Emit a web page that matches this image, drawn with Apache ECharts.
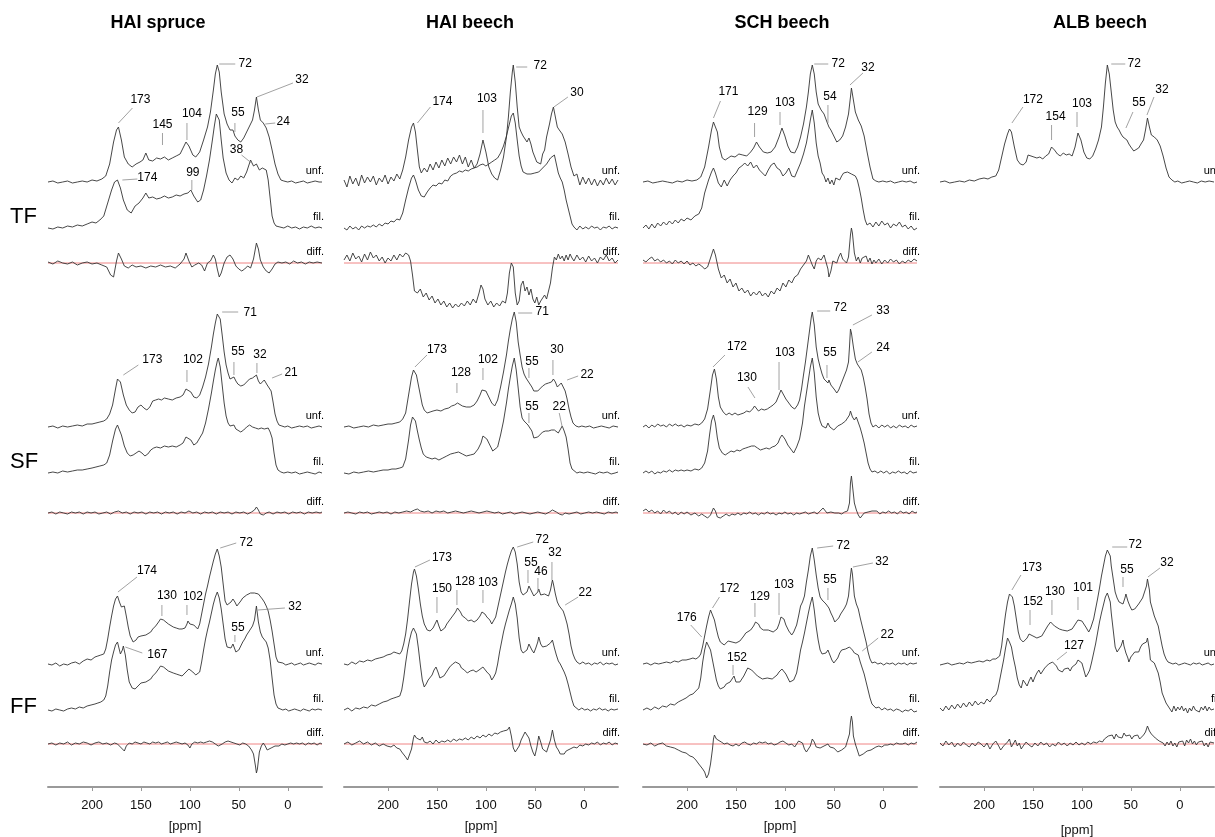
<!DOCTYPE html>
<html><head><meta charset="utf-8">
<script src="https://cdn.jsdelivr.net/npm/echarts@6/dist/echarts.min.js"></script>
<style>html,body{margin:0;padding:0;background:#fff}#c{width:1215px;height:837px}</style>
</head><body><div id="c"></div>
<script>
// ---------------- DATA (ppm, intensity above trace baseline) ----------------
const COLUMNS = ['HAI spruce', 'HAI beech', 'SCH beech', 'ALB beech'];
const ROWS = ['TF', 'SF', 'FF'];
const TRACE_NAMES = {unf: 'unf.', fil: 'fil.', diff: 'diff.'};
const TICKS = [0, 50, 100, 150, 200];
const PPM_MIN = -35, PPM_MAX = 245;

// ---- TF ----
const tfSpruceUnf = [[245,0],[240,1],[235,-1],[230,0],[225,1],[220,-1],[215,0],[210,1],[205,0],[200,2],[195,1],[190,3],[186,6],[182,18],[178,40],[175,52],[173,55],[170,42],[167,25],[163,18],[159,15],[155,18],[151,20],[148,22],[145,29],[142,22],[138,21],[134,24],[130,23],[126,25],[122,22],[118,24],[114,26],[110,28],[107,34],[104,40],[101,36],[97,27],[94,25],[90,30],[86,42],[82,55],[79,70],[76,92],[74,108],[72,117],[70,110],[68,90],[65,68],[62,58],[59,52],[56,52],[54,46],[51,42],[48,40],[45,44],[42,50],[39,56],[36,62],[34,72],[32,85],[30,72],[28,62],[25,59],[22,54],[19,45],[16,32],[13,18],[10,8],[7,2],[4,1],[0,0],[-4,1],[-8,-1],[-12,0],[-16,1],[-20,-1],[-24,0],[-28,1],[-32,0],[-35,0]];
const tfSpruceFil = [[245,0],[240,-1],[235,1],[230,0],[225,2],[220,1],[215,3],[210,2],[205,4],[200,6],[196,5],[192,8],[188,12],[184,25],[180,38],[177,46],[174,48],[171,40],[168,28],[164,18],[160,15],[156,22],[152,25],[148,30],[145,35],[142,30],[138,31],[134,29],[130,30],[126,32],[122,30],[118,31],[114,33],[110,32],[106,34],[102,35],[99,38],[96,32],[92,26],[89,28],[86,38],[83,52],[80,68],[77,88],[75,102],[73,114],[72,116],[70,108],[68,88],[66,70],[63,55],[60,48],[57,45],[54,50],[51,48],[48,52],[45,50],[42,56],[40,62],[38,68],[35,62],[32,64],[29,58],[26,60],[24,62],[22,58],[20,48],[18,30],[16,12],[14,5],[12,2],[8,1],[4,0],[0,2],[-4,0],[-8,1],[-12,-1],[-16,1],[-20,0],[-24,2],[-28,0],[-32,1],[-35,0]];
const tfSpruceDiff = [[245,1],[240,-1],[235,2],[230,0],[225,-1],[220,1],[215,-2],[210,0],[205,1],[200,-1],[195,0],[190,-2],[185,-4],[181,-12],[178,-14],[175,2],[173,10],[170,4],[167,-3],[163,-5],[159,-2],[155,-4],[150,-3],[145,-5],[140,-3],[135,-4],[130,-2],[125,-4],[120,-3],[115,-5],[110,-1],[106,4],[104,10],[101,2],[98,-4],[95,-2],[91,0],[88,-2],[85,-8],[82,0],[79,2],[76,8],[74,4],[72,-6],[70,-14],[68,-10],[65,0],[62,6],[59,8],[56,4],[53,-3],[50,-6],[47,-8],[44,-6],[41,-3],[38,-5],[35,4],[32,20],[30,14],[28,3],[25,-4],[22,-8],[19,-10],[16,-6],[13,-1],[10,1],[6,0],[2,1],[-2,-1],[-6,2],[-10,0],[-14,1],[-18,-1],[-22,1],[-26,0],[-30,1],[-35,0]];

const tfHaiBeechUnf = [[245,2],[242,-5],[239,6],[236,-2],[233,4],[230,-4],[227,7],[224,-1],[221,5],[218,0],[215,6],[212,-3],[209,4],[206,0],[203,7],[200,-2],[197,5],[194,1],[191,8],[188,3],[185,12],[182,25],[179,42],[176,55],[174,59],[172,50],[170,32],[168,15],[166,9],[163,14],[160,10],[157,18],[154,12],[151,20],[148,14],[145,22],[142,16],[139,24],[136,18],[133,25],[130,20],[127,27],[124,18],[121,25],[118,15],[115,22],[112,14],[109,18],[106,28],[103,42],[100,30],[97,15],[94,8],[91,4],[88,2],[85,12],[82,25],[79,45],[77,65],[75,90],[73,110],[72,117],[70,100],[68,75],[66,55],[64,50],[62,46],[60,48],[58,40],[56,44],[54,38],[52,30],[50,25],[48,20],[46,22],[44,18],[42,28],[40,32],[38,45],[35,58],[33,68],[31,75],[29,65],[27,55],[25,52],[22,48],[19,40],[16,28],[13,15],[10,6],[7,8],[4,-3],[1,5],[-2,-2],[-5,4],[-8,-3],[-11,3],[-14,-4],[-17,2],[-20,-3],[-23,4],[-26,-2],[-29,3],[-32,-3],[-35,2]];
const tfHaiBeechFil = [[245,0],[242,-2],[239,2],[236,-1],[233,1],[230,-2],[227,2],[224,0],[221,2],[218,1],[215,3],[212,1],[209,4],[206,2],[203,5],[200,4],[197,7],[194,6],[191,9],[188,8],[185,15],[182,28],[179,40],[176,50],[174,53],[172,48],[169,38],[166,32],[163,31],[160,36],[157,40],[154,43],[151,42],[148,45],[145,44],[142,48],[139,47],[136,52],[133,54],[130,55],[127,57],[124,56],[121,58],[118,57],[115,59],[112,60],[109,61],[106,63],[103,64],[100,62],[97,64],[94,66],[91,68],[88,70],[85,75],[82,82],[79,92],[76,104],[74,112],[72,115],[70,105],[68,88],[66,72],[64,62],[62,56],[60,55],[58,54],[56,52],[54,54],[52,53],[50,55],[48,54],[46,56],[44,58],[42,60],[40,62],[38,64],[36,66],[34,70],[32,72],[30,73],[28,64],[26,55],[24,50],[22,46],[20,38],[18,28],[16,20],[14,12],[12,4],[10,1],[7,-2],[4,2],[1,-1],[-2,1],[-5,-1],[-8,2],[-11,0],[-14,1],[-17,-2],[-20,1],[-23,0],[-26,2],[-29,-1],[-32,1],[-35,0]];
const tfHaiBeechDiff = [[245,3],[242,8],[239,2],[236,10],[233,4],[230,7],[227,1],[224,9],[221,3],[218,11],[215,5],[212,8],[209,2],[206,6],[203,0],[200,5],[197,2],[194,8],[191,3],[188,9],[185,6],[182,10],[179,8],[177,2],[175,-12],[173,-28],[170,-30],[167,-26],[164,-34],[161,-30],[158,-37],[155,-33],[152,-40],[149,-36],[146,-42],[143,-38],[140,-44],[137,-40],[134,-45],[131,-41],[128,-44],[125,-40],[122,-43],[119,-38],[116,-42],[113,-36],[110,-40],[107,-30],[105,-22],[103,-26],[101,-36],[98,-42],[95,-38],[92,-44],[89,-40],[86,-43],[83,-38],[80,-40],[78,-30],[76,-10],[74,0],[72,-4],[70,-30],[68,-42],[66,-38],[64,-22],[62,-18],[60,-28],[58,-24],[56,-32],[54,-26],[52,-36],[50,-40],[48,-34],[46,-42],[44,-38],[42,-40],[40,-32],[38,-36],[36,-28],[34,-20],[32,-5],[30,6],[28,3],[26,9],[24,4],[22,7],[20,2],[18,8],[16,3],[14,9],[12,5],[10,2],[7,8],[4,3],[1,6],[-2,1],[-5,7],[-8,2],[-11,5],[-14,0],[-17,6],[-20,3],[-23,8],[-26,2],[-29,5],[-32,0],[-35,3]];

const tfSchUnf = [[245,0],[240,1],[235,-1],[230,0],[225,1],[220,0],[215,-1],[210,1],[205,0],[200,2],[195,1],[190,2],[186,5],[182,15],[178,35],[175,52],[173,60],[171,62],[169,50],[167,35],[164,24],[161,22],[158,24],[155,26],[151,25],[147,28],[143,27],[139,26],[135,30],[132,34],[129,40],[126,35],[122,30],[118,29],[114,30],[110,35],[106,45],[103,54],[100,46],[97,36],[94,30],[90,29],[87,35],[84,45],[81,58],[78,75],[76,90],[74,108],[72,117],[70,108],[68,90],[66,78],[63,72],[60,68],[57,60],[55,55],[53,52],[50,46],[47,40],[44,42],[41,46],[38,55],[35,68],[33,85],[32,94],[30,82],[28,70],[25,62],[22,56],[19,46],[16,30],[13,15],[10,3],[7,1],[4,0],[0,1],[-4,0],[-8,1],[-12,-1],[-16,0],[-20,1],[-24,0],[-28,1],[-32,-1],[-35,0]];
const tfSchFil = [[245,0],[242,3],[239,-1],[236,4],[233,0],[230,5],[227,2],[224,6],[221,3],[218,7],[215,4],[212,8],[209,5],[206,9],[203,7],[200,10],[196,8],[192,12],[188,14],[185,20],[182,35],[178,48],[175,56],[173,60],[171,55],[168,45],[165,41],[162,48],[159,42],[156,48],[153,52],[150,55],[147,60],[144,62],[141,65],[138,62],[135,66],[132,60],[129,63],[126,58],[123,55],[120,52],[117,58],[114,63],[111,65],[108,60],[105,58],[102,52],[99,55],[96,60],[93,52],[90,51],[87,58],[84,65],[81,74],[78,85],[76,96],[74,108],[72,118],[70,105],[68,85],[66,72],[64,65],[62,55],[60,52],[58,46],[56,50],[54,44],[52,48],[50,43],[48,50],[46,52],[44,48],[42,52],[40,55],[38,53],[36,56],[34,58],[32,54],[30,55],[28,52],[26,48],[24,40],[22,30],[20,18],[18,8],[16,3],[13,5],[10,1],[7,6],[4,2],[1,7],[-2,3],[-5,5],[-8,0],[-11,4],[-14,2],[-17,6],[-20,1],[-23,3],[-26,-1],[-29,2],[-32,-2],[-35,0]];
const tfSchDiff = [[245,3],[242,1],[239,4],[236,6],[233,2],[230,4],[227,1],[224,3],[221,0],[218,2],[215,-1],[212,3],[209,0],[206,2],[203,-1],[200,2],[197,-2],[194,0],[191,-3],[188,-1],[185,-3],[182,-6],[179,-4],[176,5],[173,14],[171,8],[168,-6],[165,-15],[162,-12],[159,-20],[156,-16],[153,-24],[150,-20],[147,-28],[144,-25],[141,-30],[138,-27],[135,-33],[132,-29],[129,-32],[126,-28],[123,-33],[120,-30],[117,-34],[114,-28],[111,-31],[108,-25],[105,-28],[102,-20],[99,-24],[96,-17],[93,-20],[90,-14],[87,-12],[84,-6],[81,-2],[78,2],[76,8],[74,3],[72,-2],[70,-6],[68,2],[66,5],[63,3],[60,8],[58,6],[56,-6],[55,-14],[53,-8],[51,2],[49,4],[47,0],[45,6],[43,10],[41,4],[39,2],[37,0],[35,6],[33,28],[32,35],[31,30],[29,10],[27,2],[25,6],[23,0],[21,5],[19,3],[17,7],[15,1],[13,5],[11,-1],[9,3],[7,0],[4,4],[1,-1],[-2,3],[-5,0],[-8,4],[-11,1],[-14,3],[-17,-1],[-20,2],[-23,0],[-26,3],[-29,1],[-32,4],[-35,2]];

const tfAlbUnf = [[245,0],[240,1],[235,-1],[230,0],[225,1],[220,0],[215,2],[210,1],[205,3],[200,4],[196,3],[192,5],[188,6],[185,12],[182,25],[179,38],[176,48],[174,53],[172,50],[169,35],[166,22],[163,18],[160,17],[157,20],[155,27],[152,26],[149,25],[146,24],[143,25],[140,23],[137,26],[134,28],[131,35],[128,32],[125,28],[122,26],[119,29],[116,27],[113,28],[110,26],[107,35],[104,49],[101,42],[98,30],[95,24],[92,23],[89,26],[86,33],[83,42],[80,55],[78,75],[76,99],[74,117],[72,108],[70,90],[68,72],[66,60],[64,55],[62,52],[60,48],[58,45],[56,47],[54,42],[52,38],[50,35],[47,31],[45,29],[42,34],[39,39],[37,42],[35,52],[33,64],[31,55],[29,47],[26,45],[23,42],[20,36],[17,26],[14,14],[11,5],[8,2],[5,0],[2,1],[-2,-1],[-6,0],[-10,1],[-14,0],[-18,-1],[-22,1],[-26,0],[-30,1],[-35,0]];

// ---- SF ----
const sfSpruceUnf = [[245,0],[240,1],[235,-1],[230,1],[225,0],[220,1],[215,2],[210,1],[205,3],[200,3],[196,4],[192,5],[188,6],[185,8],[182,13],[179,22],[176,38],[174,48],[173,50],[171,45],[168,32],[165,22],[162,17],[159,14],[156,15],[153,20],[150,22],[147,19],[144,17],[141,20],[138,26],[135,27],[132,28],[129,27],[126,29],[122,28],[118,27],[114,29],[110,30],[107,32],[104,38],[102,40],[99,35],[96,30],[93,29],[90,32],[87,40],[84,50],[81,63],[78,80],[76,93],[74,104],[72,113],[71,115],[69,108],[67,92],[65,75],[63,62],[61,54],[59,48],[57,46],[55,50],[53,46],[51,43],[48,41],[45,42],[42,45],[39,48],[36,49],[34,48],[32,52],[30,46],[28,43],[26,44],[24,47],[22,45],[21,42],[19,40],[17,36],[15,25],[13,13],[11,6],[9,2],[6,1],[3,0],[0,1],[-4,-1],[-8,0],[-12,1],[-16,0],[-20,1],[-24,-1],[-28,0],[-32,1],[-35,0]];
const sfSpruceFil = [[245,0],[240,1],[235,0],[230,2],[225,1],[220,2],[215,3],[210,3],[205,4],[200,5],[196,6],[192,7],[188,8],[185,10],[182,18],[179,32],[176,44],[174,48],[172,46],[170,38],[167,27],[164,20],[161,17],[158,18],[155,20],[152,22],[149,20],[146,17],[143,19],[140,23],[137,25],[134,26],[130,25],[126,27],[122,26],[118,27],[114,26],[110,28],[107,30],[104,36],[102,38],[99,33],[96,28],[93,30],[90,35],[87,40],[84,50],[81,64],[78,80],[76,92],[74,103],[72,112],[71,115],[69,106],[67,88],[65,70],[63,57],[61,50],[59,47],[57,45],[55,48],[53,44],[51,42],[48,41],[45,43],[42,46],[39,48],[36,46],[33,45],[30,44],[27,45],[24,44],[22,43],[20,45],[18,41],[16,35],[14,20],[12,8],[10,3],[7,1],[4,0],[0,1],[-4,0],[-8,1],[-12,-1],[-16,0],[-20,1],[-24,0],[-28,-1],[-32,1],[-35,0]];
const sfSpruceDiff = [[245,0],[241,1],[237,-1],[233,1],[229,0],[225,-1],[221,1],[217,0],[213,1],[209,-1],[205,1],[201,0],[197,1],[193,-1],[189,0],[185,1],[181,-1],[177,1],[173,2],[169,0],[165,1],[161,-1],[157,1],[153,0],[149,1],[145,-1],[141,1],[137,0],[133,1],[129,-1],[125,1],[121,0],[117,1],[113,-1],[109,1],[105,0],[101,2],[97,0],[93,1],[89,-1],[85,1],[81,0],[77,1],[73,-1],[69,1],[65,0],[61,1],[57,-1],[53,1],[49,0],[45,1],[41,-1],[37,1],[34,3],[32,6],[30,3],[28,-1],[25,-2],[22,0],[19,1],[15,-1],[11,1],[7,0],[3,1],[-1,-1],[-5,1],[-9,0],[-13,1],[-17,-1],[-21,1],[-25,0],[-29,1],[-33,0],[-35,1]];

const sfHaiBeechUnf = [[245,0],[240,1],[235,-1],[230,0],[225,1],[220,0],[215,2],[210,1],[205,2],[200,3],[196,3],[192,4],[188,5],[185,8],[182,14],[179,32],[176,50],[174,57],[173,58],[171,52],[169,42],[167,32],[165,22],[163,17],[160,14],[157,15],[154,16],[150,17],[146,16],[142,18],[138,19],[135,21],[132,22],[129,24],[127,23],[124,21],[120,20],[116,20],[112,22],[109,26],[106,32],[104,37],[102,39],[100,36],[97,30],[94,24],[91,21],[88,27],[85,40],[82,55],[79,72],[77,86],[75,98],[73,108],[71,115],[69,105],[67,85],[65,72],[63,60],[61,53],[59,49],[57,47],[55,43],[53,40],[51,36],[49,34],[47,36],[45,38],[42,41],[39,43],[36,44],[33,45],[31,48],[29,45],[27,40],[25,42],[23,44],[21,42],[19,36],[17,28],[15,18],[13,10],[11,4],[8,1],[5,0],[2,1],[-2,0],[-6,1],[-10,-1],[-14,0],[-18,1],[-22,0],[-26,-1],[-30,1],[-35,0]];
const sfHaiBeechFil = [[245,0],[240,-1],[235,1],[230,0],[225,1],[220,2],[215,1],[210,2],[205,3],[200,3],[196,4],[192,4],[188,5],[185,6],[182,14],[179,33],[177,48],[175,56],[174,57],[172,52],[170,42],[168,33],[166,25],[164,19],[161,16],[158,15],[155,14],[152,15],[148,13],[144,15],[140,17],[136,19],[132,20],[128,21],[124,19],[120,17],[116,18],[112,19],[108,24],[105,30],[103,37],[101,38],[99,34],[96,28],[93,22],[91,20],[88,26],[85,38],[82,52],[79,70],[77,84],[75,96],[73,107],[71,115],[69,103],[67,85],[65,66],[63,55],[61,52],[59,50],[57,48],[55,49],[53,42],[51,35],[49,33],[47,36],[45,38],[42,41],[39,42],[36,42],[33,43],[30,43],[28,42],[26,40],[24,42],[22,47],[20,42],[18,36],[16,24],[14,10],[12,4],[10,2],[7,0],[4,1],[0,0],[-4,1],[-8,0],[-12,-1],[-16,1],[-20,0],[-24,1],[-28,-1],[-32,0],[-35,1]];
const sfHaiBeechDiff = [[245,0],[241,1],[237,0],[233,-1],[229,1],[225,0],[221,1],[217,-1],[213,0],[209,1],[205,0],[201,1],[197,-1],[193,1],[189,0],[185,1],[181,2],[177,1],[173,3],[170,4],[167,2],[163,1],[159,2],[155,0],[151,2],[147,1],[143,2],[139,0],[135,1],[131,2],[127,1],[123,0],[119,1],[115,2],[111,1],[107,0],[103,1],[99,2],[95,1],[91,0],[87,1],[83,-1],[79,0],[75,1],[71,-1],[67,0],[63,1],[59,0],[55,-1],[51,0],[47,1],[43,0],[39,-1],[35,1],[32,3],[30,4],[28,1],[25,-1],[22,-2],[19,0],[15,-1],[11,0],[7,1],[3,-1],[-1,0],[-5,1],[-9,0],[-13,1],[-17,0],[-21,-1],[-25,1],[-29,0],[-33,1],[-35,0]];

const sfSchUnf = [[245,0],[242,2],[239,-1],[236,2],[233,0],[230,3],[227,1],[224,2],[221,0],[218,3],[215,1],[212,3],[209,1],[206,2],[203,0],[200,2],[196,1],[192,3],[188,2],[185,4],[182,8],[179,18],[176,38],[174,52],[172,58],[170,48],[168,30],[166,20],[163,15],[160,12],[157,14],[154,12],[151,14],[148,12],[145,13],[142,14],[139,16],[136,15],[133,18],[131,21],[129,20],[127,16],[124,18],[121,17],[118,18],[115,20],[112,22],[109,25],[106,32],[104,37],[102,35],[99,28],[96,24],[93,20],[90,18],[87,22],[85,27],[83,38],[81,52],[79,65],[77,80],[75,95],[73,110],[72,115],[70,102],[68,80],[66,68],[64,60],[62,53],[60,48],[58,46],[56,44],[55,47],[53,42],[51,40],[49,37],[47,34],[45,37],[43,42],[41,47],[39,52],[37,57],[35,65],[34,80],[33,98],[32,94],[30,80],[28,68],[26,63],[24,62],[22,57],[20,50],[18,40],[16,28],[14,13],[12,4],[10,0],[7,2],[4,-1],[1,2],[-2,0],[-5,2],[-8,-1],[-11,1],[-14,-1],[-17,2],[-20,0],[-23,1],[-26,-1],[-29,2],[-32,0],[-35,1]];
const sfSchFil = [[245,0],[242,2],[239,0],[236,2],[233,-1],[230,1],[227,0],[224,2],[221,1],[218,3],[215,1],[212,3],[209,2],[206,3],[203,2],[200,3],[196,2],[192,4],[188,3],[185,5],[182,10],[179,22],[177,38],[175,52],[173,58],[171,50],[169,35],[167,25],[164,20],[161,18],[158,20],[155,22],[152,21],[149,23],[146,22],[143,24],[140,25],[137,26],[134,27],[131,27],[128,25],[125,23],[122,24],[119,25],[116,24],[113,26],[110,27],[107,30],[105,35],[103,38],[100,34],[97,28],[94,24],[91,20],[88,26],[85,34],[82,50],[80,67],[78,80],[76,93],[74,106],[72,115],[70,100],[68,76],[66,60],[64,52],[62,47],[60,46],[58,45],[56,50],[54,46],[52,44],[50,43],[48,45],[46,47],[44,49],[42,49],[40,50],[38,52],[36,54],[34,58],[33,62],[31,56],[29,53],[27,56],[25,54],[23,45],[21,38],[19,30],[17,20],[15,10],[13,4],[11,1],[8,2],[5,0],[2,2],[-1,0],[-4,2],[-7,-1],[-10,1],[-13,0],[-16,2],[-19,0],[-22,1],[-25,-1],[-28,2],[-31,0],[-35,1]];
const sfSchDiff = [[245,2],[242,4],[239,1],[236,3],[233,0],[230,2],[227,-1],[224,3],[221,0],[218,2],[215,-1],[212,1],[209,-2],[206,1],[203,-1],[200,1],[196,-2],[192,0],[188,-3],[185,-1],[182,-3],[179,-5],[176,-2],[173,5],[171,2],[169,-4],[166,-5],[163,-3],[160,-1],[157,-3],[154,-1],[151,-2],[148,0],[145,-2],[142,0],[139,-1],[136,1],[133,-1],[130,0],[127,-2],[124,0],[121,-1],[118,1],[115,-1],[112,0],[109,-2],[106,0],[103,-1],[100,1],[97,-1],[94,0],[91,-2],[88,0],[85,-1],[82,0],[79,1],[76,-1],[73,0],[70,1],[67,-1],[64,2],[61,5],[59,3],[57,0],[55,-2],[53,1],[51,-1],[49,0],[47,-2],[45,0],[42,-1],[39,1],[36,2],[34,10],[33,30],[32,37],[31,28],[29,10],[27,3],[25,-2],[23,-5],[21,-3],[19,0],[17,-2],[15,1],[13,-1],[11,2],[9,0],[6,2],[3,-1],[0,1],[-3,0],[-6,2],[-9,0],[-12,1],[-15,-1],[-18,2],[-21,0],[-24,1],[-27,-1],[-30,2],[-33,0],[-35,1]];

// ---- FF ----
const ffSpruceUnf = [[245,0],[241,-1],[237,1],[233,-2],[229,0],[225,-1],[221,1],[217,2],[213,0],[209,3],[205,5],[201,4],[197,7],[194,8],[191,9],[188,10],[186,15],[184,25],[182,37],[180,48],[178,58],[176,65],[174,68],[172,62],[170,57],[168,58],[167,58],[165,48],[163,37],[161,28],[158,22],[155,24],[153,27],[150,28],[148,30],[145,29],[143,28],[140,32],[138,35],[135,38],[132,42],[130,45],[127,44],[125,42],[122,40],[120,38],[117,37],[114,36],[111,35],[108,35],[105,36],[103,40],[102,43],[100,40],[98,38],[96,39],[94,37],[92,35],[90,40],[88,50],[86,60],[84,70],[82,78],[80,87],[78,95],[76,103],[74,110],[72,115],[70,108],[68,97],[66,80],[64,63],[62,59],[60,60],[58,62],[56,65],[54,62],[52,58],[50,60],[48,63],[46,66],[44,68],[42,69],[40,70],[38,71],[36,72],[34,71],[32,73],[30,70],[28,68],[26,65],[24,62],[22,58],[20,53],[18,44],[16,33],[14,20],[12,7],[10,2],[8,0],[5,1],[2,-1],[-1,0],[-4,1],[-7,-1],[-10,0],[-13,1],[-16,-1],[-19,0],[-22,1],[-25,0],[-28,-1],[-31,1],[-35,0]];
const ffSpruceFil = [[245,0],[241,-1],[237,1],[233,0],[229,-1],[225,1],[221,2],[217,1],[213,3],[209,2],[205,4],[201,5],[197,6],[194,7],[191,8],[188,10],[186,14],[184,24],[182,38],[180,50],[178,58],[176,65],[174,68],[172,60],[171,56],[169,60],[168,64],[166,55],[164,40],[162,28],[159,22],[156,21],[153,24],[150,27],[148,29],[145,28],[143,28],[140,31],[138,34],[135,37],[132,41],[130,44],[127,43],[125,41],[122,39],[120,38],[117,37],[114,36],[111,35],[108,34],[105,37],[103,39],[101,41],[99,40],[97,38],[94,35],[92,33],[90,38],[88,48],[86,60],[84,71],[82,80],[80,88],[78,97],[76,106],[74,113],[72,118],[70,112],[68,101],[66,86],[64,71],[62,63],[60,61],[58,62],[56,66],[55,67],[53,58],[52,56],[50,60],[48,64],[46,68],[44,71],[42,75],[40,78],[38,81],[36,84],[34,90],[32,104],[30,88],[28,78],[26,73],[24,71],[22,68],[20,62],[18,50],[16,32],[14,15],[12,6],[10,2],[8,1],[5,0],[2,1],[-1,-1],[-4,0],[-7,1],[-10,0],[-13,-1],[-16,1],[-19,0],[-22,-1],[-25,1],[-28,0],[-31,1],[-35,0]];
const ffSpruceDiff = [[245,0],[241,1],[237,-1],[233,1],[229,0],[225,2],[221,-1],[217,1],[213,0],[209,2],[205,1],[201,-1],[197,1],[193,2],[189,0],[185,1],[181,-1],[177,1],[174,0],[171,-3],[169,-1],[167,-7],[165,-2],[162,1],[159,0],[156,2],[153,1],[150,0],[147,2],[144,1],[141,0],[138,2],[135,1],[132,2],[129,0],[126,1],[123,2],[120,0],[117,1],[114,2],[111,1],[108,0],[105,1],[102,-1],[100,-4],[98,0],[95,2],[92,1],[89,2],[86,1],[83,2],[80,3],[77,2],[74,0],[71,-2],[69,-4],[67,0],[64,2],[61,3],[58,2],[55,1],[52,0],[49,-1],[46,1],[43,0],[40,-2],[37,-6],[35,-10],[33,-22],[32,-29],[31,-25],[29,-8],[27,-2],[25,1],[23,-2],[21,-6],[19,-8],[17,-4],[15,-3],[13,-2],[11,-1],[9,-2],[6,0],[3,-1],[0,0],[-3,1],[-6,0],[-9,1],[-12,0],[-15,1],[-18,-1],[-21,1],[-24,0],[-27,1],[-30,-1],[-33,1],[-35,0]];

const ffHaiBeechUnf = [[245,0],[241,-1],[237,2],[233,0],[229,3],[225,2],[221,4],[217,3],[213,5],[209,6],[205,7],[201,9],[197,10],[194,12],[191,11],[188,10],[186,13],[184,20],[182,30],[180,45],[178,63],[176,80],[174,92],[173,95],[171,88],[169,75],[167,60],[165,48],[163,40],[160,34],[157,33],[154,36],[152,40],[150,44],[148,38],[146,33],[144,34],[142,36],[140,40],[137,44],[134,48],[131,52],[129,56],[128,58],[126,52],[124,48],[121,46],[118,43],[115,44],[112,42],[109,44],[106,48],[104,52],[103,53],[101,50],[99,47],[96,44],[94,40],[92,42],[90,47],[88,56],[86,65],[84,74],[82,83],[80,92],[78,100],[76,107],[74,113],[72,117],[70,112],[68,100],[66,82],[64,72],[62,69],[60,70],[58,72],[56,78],[55,80],[53,72],[51,68],[49,70],[47,72],[46,75],[44,69],[42,68],[40,70],[38,69],[36,68],[34,74],[32,84],[31,80],[29,70],[27,62],[25,58],[23,56],[21,53],[19,47],[17,40],[15,30],[13,18],[11,10],[9,5],[7,2],[4,0],[1,2],[-2,0],[-5,1],[-8,-1],[-11,1],[-14,0],[-17,2],[-20,-1],[-23,1],[-26,0],[-29,1],[-32,-1],[-35,0]];
const ffHaiBeechFil = [[245,0],[241,2],[237,-1],[233,2],[229,1],[225,3],[221,2],[217,5],[213,4],[209,6],[205,8],[201,9],[197,11],[194,12],[191,13],[188,14],[186,20],[184,32],[182,47],[180,60],[178,70],[176,78],[174,82],[173,83],[171,76],[169,62],[167,45],[165,30],[163,23],[161,26],[159,30],[157,32],[155,35],[153,40],[151,43],[149,38],[147,32],[145,30],[143,34],[141,36],[139,40],[137,43],[134,46],[131,48],[129,50],[127,46],[125,42],[122,40],[119,37],[116,39],[113,40],[110,38],[107,40],[105,42],[103,43],[101,41],[99,38],[96,35],[94,30],[92,33],[90,37],[88,46],[86,58],[84,68],[82,78],[80,86],[78,93],[76,100],[74,106],[72,113],[70,106],[68,92],[66,72],[64,60],[62,57],[60,58],[58,60],[56,66],[55,68],[53,60],[51,57],[49,62],[47,68],[46,73],[44,66],[42,63],[40,65],[38,64],[36,63],[34,67],[32,70],[30,62],[28,55],[26,49],[24,46],[22,42],[20,38],[18,33],[16,26],[14,18],[12,10],[10,4],[8,2],[5,0],[2,2],[-1,0],[-4,1],[-7,-1],[-10,1],[-13,0],[-16,2],[-19,0],[-22,1],[-25,-1],[-28,1],[-31,0],[-35,1]];
const ffHaiBeechDiff = [[245,0],[241,2],[237,-1],[233,1],[229,3],[225,0],[221,2],[217,-1],[213,1],[209,-2],[205,0],[201,-2],[197,-3],[194,-1],[191,-4],[188,-5],[186,-8],[184,-10],[182,-13],[180,-16],[178,-14],[176,-5],[174,6],[173,9],[171,6],[169,8],[167,4],[165,7],[163,2],[160,1],[157,3],[154,0],[151,4],[148,1],[145,3],[142,2],[139,4],[136,2],[133,5],[130,3],[127,5],[124,4],[121,6],[118,4],[115,7],[112,5],[109,8],[106,6],[103,9],[100,7],[97,10],[94,8],[91,11],[88,10],[85,12],[82,13],[80,15],[78,14],[76,17],[74,8],[72,-4],[70,-8],[68,-10],[66,-2],[64,4],[62,8],[60,12],[58,13],[56,6],[54,-2],[52,-8],[50,-12],[48,-4],[46,8],[44,2],[42,-5],[40,-3],[38,-8],[36,-6],[34,4],[32,14],[30,4],[28,-3],[26,-6],[24,-10],[22,-8],[20,-10],[18,-7],[16,-9],[14,-5],[12,-6],[10,-3],[7,-4],[4,-1],[1,-2],[-2,0],[-5,-1],[-8,1],[-11,0],[-14,2],[-17,-1],[-20,1],[-23,0],[-26,2],[-29,-1],[-32,1],[-35,0]];

const ffSchUnf = [[245,0],[241,1],[237,-1],[233,1],[229,0],[225,1],[221,2],[217,1],[213,3],[209,2],[205,4],[201,4],[197,5],[194,6],[191,5],[188,7],[186,10],[184,18],[182,28],[180,38],[178,47],[176,54],[174,52],[172,44],[170,35],[168,27],[166,22],[164,20],[162,19],[160,20],[158,23],[156,24],[154,22],[152,21],[150,21],[148,22],[146,23],[144,25],[142,28],[140,31],[138,33],[135,34],[132,38],[130,42],[129,43],[127,40],[125,36],[122,34],[120,33],[117,34],[115,34],[112,32],[110,31],[108,35],[106,40],[104,47],[103,49],[101,45],[99,39],[96,33],[93,29],[91,32],[88,39],[86,48],[84,58],[82,62],[80,68],[78,82],[76,94],[74,108],[72,116],[70,104],[68,89],[66,76],[64,67],[62,64],[60,62],[58,60],[56,58],[55,56],[53,51],[51,47],[49,42],[47,41],[45,46],[43,50],[41,53],[39,56],[37,60],[35,68],[33,88],[32,96],[31,90],[29,68],[27,60],[25,55],[23,46],[21,38],[19,30],[17,22],[15,12],[13,5],[11,1],[8,2],[5,0],[2,1],[-1,-1],[-4,1],[-7,0],[-10,1],[-13,-1],[-16,1],[-19,0],[-22,1],[-25,-1],[-28,1],[-31,0],[-35,1]];
const ffSchFil = [[245,0],[241,2],[237,0],[233,3],[229,1],[225,4],[221,3],[217,6],[213,5],[209,8],[205,10],[201,12],[197,15],[194,16],[191,19],[188,22],[186,32],[184,48],[182,60],[180,68],[178,66],[176,60],[174,50],[172,40],[170,30],[168,24],[166,21],[164,20],[162,23],[160,26],[158,27],[156,28],[154,30],[152,34],[150,28],[148,26],[146,28],[144,30],[142,34],[140,38],[138,42],[136,43],[134,40],[131,37],[128,34],[126,33],[123,31],[121,30],[118,32],[116,33],[113,31],[111,32],[108,35],[106,38],[103,41],[101,39],[99,36],[97,32],[95,28],[93,27],[91,30],[88,37],[86,48],[84,60],[82,68],[80,77],[78,87],[76,97],[74,106],[72,113],[70,100],[68,83],[66,70],[64,60],[62,56],[60,55],[58,57],[56,60],[54,55],[52,50],[50,47],[48,48],[46,52],[44,57],[42,60],[40,62],[38,61],[36,60],[34,63],[33,65],[31,60],[29,57],[27,58],[25,55],[23,48],[21,42],[19,36],[17,28],[15,20],[13,12],[11,6],[9,4],[7,2],[4,3],[1,0],[-2,2],[-5,0],[-8,1],[-11,-1],[-14,1],[-17,0],[-20,-2],[-23,0],[-26,-1],[-29,1],[-32,-2],[-35,-1]];
const ffSchDiff = [[245,0],[241,-1],[237,1],[233,-2],[229,0],[225,1],[221,-2],[217,-3],[213,-4],[209,-6],[205,-8],[201,-9],[197,-12],[194,-13],[191,-16],[188,-20],[186,-22],[184,-25],[182,-28],[180,-34],[178,-30],[176,-20],[174,-5],[173,5],[172,9],[170,5],[168,3],[165,2],[162,0],[159,1],[156,-1],[153,-2],[150,0],[147,-2],[144,1],[141,2],[138,0],[135,-1],[132,1],[129,0],[126,2],[123,1],[120,2],[117,0],[114,1],[111,-1],[108,0],[105,2],[102,3],[99,1],[96,-1],[93,0],[90,-3],[88,-1],[86,3],[84,5],[82,1],[80,-5],[78,-8],[76,-10],[74,-2],[72,5],[70,2],[68,-3],[66,-1],[64,-4],[62,-5],[60,-2],[58,0],[56,0],[54,-3],[52,-5],[50,-4],[48,-6],[46,-8],[44,-8],[42,-6],[40,-5],[38,-3],[36,-2],[34,10],[33,22],[32,28],[31,22],[30,8],[28,0],[26,-6],[24,-12],[22,-11],[20,-10],[18,-9],[16,-7],[14,-5],[12,-6],[10,-4],[7,-3],[4,-2],[1,-3],[-2,-1],[-5,-1],[-8,0],[-11,-1],[-14,1],[-17,0],[-20,0],[-23,1],[-26,-1],[-29,1],[-32,0],[-35,2]];

const ffAlbUnf = [[245,-1],[241,0],[237,1],[233,-1],[229,0],[225,1],[221,0],[217,2],[213,1],[209,2],[205,3],[201,2],[197,4],[194,3],[191,5],[188,5],[186,6],[184,8],[182,18],[180,35],[178,50],[176,62],[174,70],[173,72],[171,67],[169,58],[167,45],[165,32],[163,25],[160,22],[158,22],[156,26],[154,30],[152,32],[150,28],[148,27],[146,26],[144,25],[141,28],[138,33],[135,38],[132,42],[130,40],[128,38],[126,36],[123,35],[120,34],[118,33],[115,33],[113,34],[110,35],[108,38],[106,41],[104,44],[102,45],[100,43],[98,42],[96,37],[93,32],[91,36],[88,45],[86,55],[84,65],[82,76],[80,88],[78,98],[76,108],[74,114],[73,115],[71,108],[70,98],[68,85],[66,72],[64,66],[62,62],[60,61],[58,60],[56,66],[55,70],[53,63],[51,58],[49,54],[48,52],[46,55],[44,57],[42,60],[40,63],[38,66],[36,68],[34,78],[33,85],[31,74],[30,62],[28,55],[26,48],[24,43],[22,38],[20,28],[18,18],[16,10],[14,5],[12,2],[10,1],[7,0],[4,1],[1,-1],[-2,0],[-5,1],[-8,0],[-11,-1],[-14,1],[-17,0],[-20,1],[-23,-1],[-26,0],[-29,1],[-32,-1],[-35,0]];
const ffAlbFil = [[245,2],[242,-1],[239,4],[236,0],[233,5],[230,1],[227,6],[224,2],[221,7],[218,3],[215,8],[212,4],[209,9],[206,5],[203,8],[200,6],[197,11],[194,8],[191,13],[188,15],[186,20],[184,30],[182,40],[180,50],[178,62],[176,72],[174,68],[172,63],[170,52],[168,43],[166,32],[164,25],[162,22],[160,30],[158,28],[156,24],[154,29],[152,33],[150,28],[148,33],[146,37],[144,40],[142,36],[140,38],[138,42],[136,40],[134,46],[132,44],[130,48],[128,50],[126,44],[124,40],[122,42],[120,38],[118,41],[116,40],[114,42],[112,39],[110,43],[108,41],[106,46],[104,50],[102,48],[100,47],[98,40],[96,33],[94,36],[92,40],[90,48],[88,57],[86,66],[84,77],[82,88],[80,97],[78,105],[76,113],[74,117],[73,117],[71,108],[70,97],[68,80],[66,63],[64,58],[62,57],[60,64],[58,70],[57,64],[55,57],[53,52],[52,48],[50,53],[48,55],[46,58],[44,60],[42,58],[40,63],[38,66],[36,67],[34,68],[33,72],[31,60],[30,50],[28,49],[26,47],[24,42],[22,37],[20,28],[18,17],[16,12],[14,7],[12,4],[10,3],[8,-2],[6,4],[4,-1],[2,3],[0,0],[-2,4],[-4,-1],[-6,2],[-8,-3],[-10,2],[-12,-1],[-14,4],[-16,0],[-18,-2],[-20,-2],[-22,3],[-24,0],[-26,4],[-28,-1],[-30,3],[-32,0],[-35,1]];
const ffAlbDiff = [[245,1],[242,-2],[239,3],[236,-1],[233,2],[230,-3],[227,1],[224,-2],[221,2],[218,-1],[215,-3],[212,1],[209,-2],[206,2],[203,0],[200,-3],[197,1],[194,-5],[191,0],[188,3],[185,-2],[183,-6],[180,-2],[178,-4],[176,2],[174,5],[172,-3],[170,-1],[168,4],[166,-2],[164,1],[162,-5],[160,-2],[157,2],[154,-1],[151,-3],[148,1],[145,-2],[142,2],[139,-1],[136,1],[133,-3],[130,0],[127,-2],[124,2],[121,-1],[118,1],[115,-2],[112,1],[109,-1],[106,2],[103,-1],[100,1],[97,-1],[94,2],[91,0],[88,2],[85,1],[82,3],[79,2],[77,5],[75,3],[73,8],[71,6],[69,9],[67,5],[65,10],[63,7],[61,9],[59,6],[57,11],[55,8],[53,6],[51,9],[49,5],[47,8],[45,6],[43,9],[41,5],[39,7],[37,9],[35,12],[33,18],[31,13],[29,10],[27,8],[25,6],[23,7],[21,3],[19,5],[17,1],[15,-2],[13,2],[11,-1],[9,3],[7,-2],[5,1],[3,-3],[1,2],[-1,0],[-3,3],[-5,-2],[-7,4],[-9,1],[-11,5],[-13,0],[-15,3],[-17,-1],[-19,2],[-21,0],[-23,3],[-25,-2],[-27,1],[-29,-3],[-31,2],[-33,0],[-35,1]];

// ---- peak annotations: [text, trace, ppm, height above trace baseline] ----
const tfSpruceNotes = [['173','unf',173,59],['145','unf',128,37],['104','unf',103,42],['72','unf',70,118],['55','unf',54,50],['32','unf',31.5,85],['24','unf',23,58],['174','fil',169,48],['99','fil',98,38],['38','fil',37,65]];
const tfHaiBeechNotes = [['174','unf',170,59],['103','unf',103,49],['72','unf',69,115],['30','unf',30.5,75]];
const tfSchNotes = [['171','unf',173,64],['129','unf',131,45],['103','unf',105,57],['72','unf',70,118],['54','unf',56,59],['32','unf',33.5,97]];
const tfAlbNotes = [['172','unf',171.5,59],['154','unf',131,42],['103','unf',105,55],['72','unf',70,118],['55','unf',55,54],['32','unf',33.5,67]];
const sfSpruceNotes = [['173','unf',168,52],['102','unf',103,45],['71','unf',67,115],['55','unf',55,52],['32','unf',31.5,54],['21','unf',16,49]];
const sfHaiBeechNotes = [['173','unf',172.5,60],['128','unf',129.6,34],['102','unf',103,47],['71','unf',67,114],['55','unf',56,49],['30','unf',31.5,52],['22','unf',17,47],['55','fil',56,50],['22','fil',22,46]];
const sfSchNotes = [['172','unf',173.5,60],['130','unf',130.6,29],['103','unf',106,37],['72','unf',67,116],['55','unf',57,49],['33','unf',30.5,102],['24','unf',25.4,65]];
const ffSpruceNotes = [['174','unf',173.5,72],['130','unf',128.6,48],['102','unf',103,49],['72','unf',69,116],['32','fil',30.5,100],['55','fil',54,68],['167','fil',166,63]];
const ffHaiBeechNotes = [['173','unf',172.5,97],['150','unf',150,51],['128','unf',129.6,59],['103','unf',103,61],['72','unf',68,117],['55','unf',57,81],['46','unf',46.8,72],['32','unf',32.5,84],['22','unf',19,59]];
const ffSchNotes = [['172','unf',174,56],['176','unf',185,27],['129','unf',130.6,47],['103','unf',106,49],['72','unf',67,116],['55','unf',56,64],['32','unf',30.5,97],['22','fil',21,59],['152','fil',153,35]];
const ffAlbNotes = [['173','unf',171.5,74],['152','unf',153,39],['130','unf',130.6,49],['101','unf',104,54],['72','unf',69,117],['55','unf',58,77],['32','unf',32.5,87],['127','fil',125.5,50]];

// ---------------- LAYOUT (pixels) ----------------
// annotation leader end (dx,dy) and label centre (dx,dy) relative to the peak anchor
const NOTE_LAYOUT = {
  tfSpruce: [[14,-15,22,-23],[0,-12,0,-20],[0,-17,5,-26],[16,0,26,0],[0,-9,3,-19],[36,-14,45,-17],[10,-1,18,-2],[15,-1,25,-2],[0,-10,1,-17],[-10,-8,-15,-13]],
  tfHaiBeech: [[13,-16,25,-21],[0,-23,4,-34],[11,0,24,-1],[14,-10,23,-14]],
  tfSch: [[7,-17,15,-26],[0,-14,3,-25],[0,-13,5,-22],[14,0,24,0],[0,-18,2,-26],[13,-12,18,-17]],
  tfAlb: [[11,-16,21,-23],[0,-15,4,-23],[0,-15,5,-23],[14,0,23,0],[7,-16,13,-25],[7,-18,15,-25]],
  sfSpruce: [[15,-10,29,-15],[0,-12,6,-22],[16,0,28,1],[0,-13,4,-23],[0,-10,3,-18],[10,-4,19,-5]],
  sfHaiBeech: [[12,-12,22,-17],[0,-10,4,-20],[0,-12,5,-20],[14,0,24,-1],[0,-10,3,-16],[0,-15,4,-25],[11,-4,20,-5],[0,-10,3,-16],[-3,-14,-3,-20]],
  sfSch: [[12,-12,24,-20],[-7,-11,-8,-20],[0,-28,6,-37],[13,0,23,-3],[0,-13,3,-25],[19,-10,30,-14],[14,-10,25,-14]],
  ffSpruce: [[19,-15,29,-21],[0,-11,5,-20],[0,-10,6,-18],[16,-5,26,-5],[27,-2,37,-3],[0,-7,3,-14],[17,6,32,8]],
  ffHaiBeech: [[15,-7,27,-9],[0,-16,5,-24],[0,-15,8,-23],[0,-13,5,-20],[16,-5,25,-7],[0,-13,3,-20],[0,-14,3,-20],[0,-18,3,-27],[13,-8,20,-12]],
  ffSch: [[7,-11,17,-19],[-11,-12,-15,-19],[0,-14,5,-20],[0,-22,5,-30],[16,-2,26,-2],[0,-12,2,-20],[20,-4,29,-5],[16,-13,25,-16],[0,-10,4,-17]],
  ffAlb: [[9,-15,20,-22],[0,-15,3,-23],[0,-15,3,-23],[0,-13,5,-22],[15,0,23,-2],[0,-10,4,-17],[12,-9,19,-14],[10,-8,17,-14]]
};
const FONT = "Arial, 'Liberation Sans', Helvetica, sans-serif";
const COL_LEFT = [48, 344, 643, 940], COL_W = 274;
const ROW_TOP = [40, 290, 520], ROW_H = [280, 240, 267];
const OFF = [{unf:138, fil:92, diff:57}, {unf:103, fil:57, diff:17}, {unf:123, fil:77, diff:43}];
const TRACE_LABEL_DX = [2, 2, 3, 8];
const TITLE_X = [158, 470, 782, 1100];
const ROW_LABEL_Y = [217, 462, 707];
const ZERO_COLOR = '#f08484';

const panels = [
  {r:0,c:0,key:'tfSpruce',unf:tfSpruceUnf,fil:tfSpruceFil,diff:tfSpruceDiff,notes:tfSpruceNotes},
  {r:0,c:1,key:'tfHaiBeech',unf:tfHaiBeechUnf,fil:tfHaiBeechFil,diff:tfHaiBeechDiff,notes:tfHaiBeechNotes},
  {r:0,c:2,key:'tfSch',unf:tfSchUnf,fil:tfSchFil,diff:tfSchDiff,notes:tfSchNotes},
  {r:0,c:3,key:'tfAlb',unf:tfAlbUnf,notes:tfAlbNotes},
  {r:1,c:0,key:'sfSpruce',unf:sfSpruceUnf,fil:sfSpruceFil,diff:sfSpruceDiff,notes:sfSpruceNotes},
  {r:1,c:1,key:'sfHaiBeech',unf:sfHaiBeechUnf,fil:sfHaiBeechFil,diff:sfHaiBeechDiff,notes:sfHaiBeechNotes},
  {r:1,c:2,key:'sfSch',unf:sfSchUnf,fil:sfSchFil,diff:sfSchDiff,notes:sfSchNotes},
  {r:2,c:0,key:'ffSpruce',unf:ffSpruceUnf,fil:ffSpruceFil,diff:ffSpruceDiff,notes:ffSpruceNotes},
  {r:2,c:1,key:'ffHaiBeech',unf:ffHaiBeechUnf,fil:ffHaiBeechFil,diff:ffHaiBeechDiff,notes:ffHaiBeechNotes},
  {r:2,c:2,key:'ffSch',unf:ffSchUnf,fil:ffSchFil,diff:ffSchDiff,notes:ffSchNotes},
  {r:2,c:3,key:'ffAlb',unf:ffAlbUnf,fil:ffAlbFil,diff:ffAlbDiff,notes:ffAlbNotes}
];

const grids = [], xAxes = [], yAxes = [], series = [];
panels.forEach((p, i) => {
  const off = OFF[p.r];
  const bottom = p.r === 2;
  grids.push({left: COL_LEFT[p.c], top: ROW_TOP[p.r], width: COL_W, height: ROW_H[p.r], containLabel: false, outerBoundsMode: 'none'});
  xAxes.push({
    type: 'value', gridIndex: i, min: PPM_MIN, max: PPM_MAX, inverse: true, show: bottom,
    axisLine: {show: true, onZero: false, lineStyle: {color: '#9a9a9a', width: 2}},
    axisTick: {show: true, customValues: TICKS, length: 4, lineStyle: {color: '#9a9a9a'}},
    axisLabel: {customValues: TICKS, fontSize: 13, color: '#111', margin: 12, fontFamily: FONT},
    splitLine: {show: false},
    name: bottom ? '[ppm]' : '', nameLocation: 'middle', nameGap: p.c === 3 ? 37 : 33,
    nameTextStyle: {fontSize: 13, color: '#111', fontFamily: FONT}
  });
  yAxes.push({type: 'value', gridIndex: i, min: 0, max: ROW_H[p.r], show: false});

  // red zero reference line under each difference trace
  if (p.diff) {
    series.push({
      type: 'line', xAxisIndex: i, yAxisIndex: i,
      data: [[PPM_MAX, off.diff], [PPM_MIN, off.diff]],
      showSymbol: false, symbol: 'none', clip: false, silent: true, animation: false, z: 2,
      lineStyle: {color: ZERO_COLOR, width: 1}
    });
  }
  ['unf', 'fil', 'diff'].forEach(k => {
    if (!p[k]) return;
    series.push({
      type: 'line', xAxisIndex: i, yAxisIndex: i,
      data: p[k].map(d => [d[0], off[k] + d[1]]),
      showSymbol: false, symbol: 'none', clip: false, silent: true, animation: false, z: 3,
      lineStyle: {color: '#333', width: 0.9}
    });
  });

  const items = [];
  const lay = NOTE_LAYOUT[p.key];
  p.notes.forEach((n, j) => {
    const L = lay[j];
    items.push({x: n[2], y: off[n[1]] + n[3], text: n[0], lead: [L[0], L[1]], tx: L[2], ty: L[3], align: 'center', size: 12});
  });
  ['unf', 'fil', 'diff'].forEach(k => {
    if (p[k]) items.push({x: PPM_MIN, y: off[k], text: TRACE_NAMES[k], lead: null, tx: TRACE_LABEL_DX[p.c], ty: -11, align: 'right', size: 11});
  });
  series.push({
    type: 'custom', xAxisIndex: i, yAxisIndex: i, clip: false, silent: true, animation: false, z: 5,
    data: items.map(t => [t.x, t.y]), encode: {x: 0, y: 1},
    renderItem: (params, api) => {
      const t = items[params.dataIndex];
      const pt = api.coord([t.x, t.y]);
      const ch = [];
      if (t.lead) ch.push({type: 'line', shape: {x1: pt[0], y1: pt[1], x2: pt[0] + t.lead[0], y2: pt[1] + t.lead[1]}, style: {stroke: '#8a8a8a', lineWidth: 0.8}});
      ch.push({type: 'text', x: pt[0] + t.tx, y: pt[1] + t.ty, style: {text: t.text, fill: '#000', font: t.size + 'px ' + FONT, align: t.align, verticalAlign: 'middle'}});
      return {type: 'group', children: ch};
    }
  });
});

const graphics = [];
COLUMNS.forEach((t, c) => graphics.push({type: 'text', x: TITLE_X[c], y: 23, style: {text: t, fill: '#000', font: 'bold 18px ' + FONT, align: 'center', verticalAlign: 'middle'}}));
ROWS.forEach((t, r) => graphics.push({type: 'text', x: 10, y: ROW_LABEL_Y[r], style: {text: t, fill: '#000', font: '22px ' + FONT, align: 'left', verticalAlign: 'middle'}}));

const chart = echarts.init(document.getElementById('c'), null, {renderer: 'canvas'});
chart.setOption({
  animation: false, backgroundColor: '#fff',
  grid: grids, xAxis: xAxes, yAxis: yAxes, series: series, graphic: graphics
});
</script></body></html>
